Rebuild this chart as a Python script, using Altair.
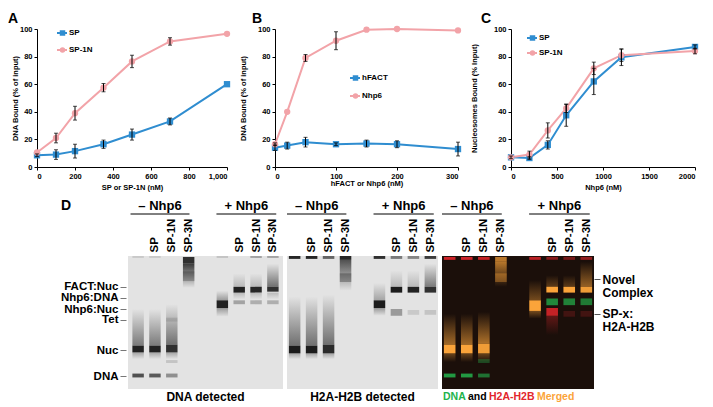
import json
import altair as alt
import pandas as pd

FONT = "Liberation Sans"
BLUE = "#2f8dd0"
PINK = "#f2a3a8"
ORANGE = "#fba43a"
GREEN = "#23b24c"
RED = "#e2262c"

# ---------------- Panel A ----------------
a_conc = [0, 100, 200, 350, 500, 700, 1000]
a_sp = [8.5, 9.0, 11.5, 16.5, 23.5, 33.0, 60.0]
a_sp_err = [1.0, 3.5, 5.0, 3.0, 4.0, 2.5, 0.0]
a_sp1n = [10.5, 21.0, 39.0, 57.5, 76.5, 91.0, 96.5]
a_sp1n_err = [0.5, 3.5, 5.0, 3.0, 4.5, 2.7, 0.0]

# ---------------- Panel B ----------------
b_conc = [0, 20, 50, 100, 150, 200, 300]
b_hfact = [14.0, 15.5, 18.0, 16.5, 17.0, 16.5, 13.0]
b_hfact_err = [2.0, 2.5, 3.5, 1.0, 2.5, 2.5, 5.0]
b_nhp6 = [16.5, 40.0, 79.0, 91.5, 99.5, 100.0, 99.0]
b_nhp6_err = [1.0, 0.0, 2.5, 6.5, 0.0, 0.0, 0.0]

# ---------------- Panel C ----------------
c_conc = [0, 200, 400, 600, 900, 1200, 2000]
c_sp = [7.0, 6.5, 16.0, 37.5, 62.0, 79.5, 87.0]
c_sp_err = [0.0, 1.0, 3.0, 8.0, 9.5, 6.0, 1.5]
c_sp1n = [7.0, 9.0, 26.5, 42.5, 71.5, 81.0, 84.0]
c_sp1n_err = [1.0, 2.5, 5.5, 3.0, 4.5, 4.5, 2.0]

# ---------------- Panel D (gels) ----------------
GEL_DEPTH = 138
lane_label_pos = [1, 2, 3, 6, 7, 8]
lane_label_text = ["SP", "SP-1N", "SP-3N", "SP", "SP-1N", "SP-3N"]
hdr_text = ["\u2013 Nhp6", "+ Nhp6"]
hdr_start = [-0.45, 4.65]
hdr_end = [3.05, 8.2]
g1_marker_pos = [32, 43.5, 55, 66, 98, 125]
g1_marker_text = ["FACT:Nuc", "Nhp6:DNA", "Nhp6:Nuc", "Tet", "Nuc", "DNA"]
g3_marker_pos = [24, 60]
g3_marker_text = [["Novel", "Complex"], ["SP-x:", "H2A-H2B"]]
cap_words = ["DNA", "and", "H2A-H2B", "Merged"]

# gel 1: DNA detected  (lane, top, bottom, level, kind)
g1_lane = [0, 1, 5, 7, 8, 0, 1, 2, 0, 1, 2, 0, 1, 2, 2, 2, 0, 1, 2, 3, 3, 3, 5, 5, 5,
           6, 7, 8, 6, 7, 8, 6, 7, 8, 6, 7, 8]
g1_top = [0, 0, 0, 0, 0, 55, 55, 50, 93, 93, 92, 100, 100, 100, 64, 108, 122, 122, 122, 1, 8, 16, 36, 46, 54,
          18, 18, 8, 32, 32, 32, 38, 38, 38, 46, 46, 46]
g1_bot = [2, 2, 2, 2, 2, 93, 93, 92, 100, 100, 100, 107, 107, 107, 68, 111, 126, 126, 126, 8, 33, 26, 46, 54, 63,
          32, 32, 32, 38, 38, 37, 45, 45, 45, 50, 50, 50]
g1_level = [0.12, 0.12, 0.15, 0.3, 0.3, 0.5, 0.5, 0.55, 0.92, 0.92, 0.85, 0.3, 0.3, 0.3, 0.12, 0.15,
            0.7, 0.65, 0.4, 0.85, 0.8, 0.25, 0.35, 0.92, 0.35, 0.2, 0.2, 0.55, 0.92, 0.9, 0.85,
            0.2, 0.2, 0.2, 0.3, 0.25, 0.25]
g1_kind = ["band"] * 5 + ["up"] * 3 + ["band"] * 3 + ["down"] * 3 + ["band"] * 6 + ["down", "band", "up", "band", "down",
           "up", "up", "up", "band", "band", "band", "down", "down", "down", "band", "band", "band"]

# gel 2: H2A-H2B detected
g2_lane = [0, 1, 2, 3, 5, 6, 7, 8, 0, 1, 2, 0, 1, 2, 0, 1, 2, 3, 3, 5, 5, 5,
           6, 7, 8, 6, 7, 8, 6, 7, 8]
g2_top = [0, 0, 0, 0, 0, 0, 0, 0, 42, 42, 40, 93, 93, 92, 101, 101, 101, 4, 18, 28, 46, 54,
          15, 15, 8, 32, 32, 32, 55, 56, 56]
g2_bot = [3, 3, 3, 4, 3, 3, 3, 3, 93, 93, 92, 101, 101, 101, 107, 107, 107, 36, 27, 46, 54, 62,
          32, 32, 32, 38, 38, 38, 62, 61, 61]
g2_level = [0.9, 0.9, 0.6, 0.9, 0.85, 0.5, 0.45, 0.8, 0.55, 0.55, 0.55, 0.95, 0.95, 0.88,
            0.3, 0.3, 0.3, 0.7, 0.3, 0.3, 0.95, 0.35, 0.2, 0.2, 0.5, 0.95, 0.92, 0.85,
            0.35, 0.12, 0.15]
g2_kind = ["band"] * 8 + ["up"] * 3 + ["band"] * 3 + ["down"] * 3 + ["down", "band", "up", "band", "down",
           "up", "up", "up", "band", "band", "band", "band", "band", "band"]

# gel 3: DNA (green) and H2A-H2B (red), merged (orange)
g3_lane = [0, 1, 2, 5, 6, 7, 8, 3, 3, 3, 0, 1, 2, 0, 1, 2, 0, 1, 2, 2, 0, 1, 2,
           5, 5, 5, 6, 7, 8, 6, 7, 8, 6, 7, 8, 6, 6, 7, 8]
g3_top = [1, 1, 1, 1, 1, 1, 1, 1, 6, 18, 60, 60, 58, 92, 92, 91, 101, 101, 101, 107, 122, 122, 122,
          25, 46, 57, 20, 20, 6, 32, 32, 32, 44, 44, 44, 54, 62, 57, 57]
g3_bot = [4, 4, 4, 4, 4, 4, 4, 6, 32, 27, 92, 92, 91, 101, 101, 101, 110, 110, 110, 111, 126, 126, 126,
          46, 57, 65, 32, 32, 32, 38, 38, 38, 51, 51, 51, 62, 82, 63, 63]
g3_level = [0.9, 0.9, 0.85, 0.8, 0.55, 0.45, 0.6, 0.7, 0.7, 0.35, 0.6, 0.6, 0.65, 1.0, 1.0, 0.95,
            0.35, 0.35, 0.35, 0.35, 0.85, 0.85, 0.6, 0.4, 1.0, 0.4, 0.3, 0.3, 0.55, 1.0, 1.0, 0.95,
            0.75, 0.7, 0.65, 0.85, 0.35, 0.2, 0.2]
g3_kind = ["band"] * 7 + ["band", "down", "band"] + ["up"] * 3 + ["band"] * 3 + ["down"] * 3 + ["band"] * 4 + \
          ["up", "band", "down", "up", "up", "up", "band", "band", "band", "band", "band", "band",
           "band", "down", "band", "band"]
g3_signal = ["H2A-H2B"] * 7 + ["Merged"] * 12 + ["DNA"] * 4 + ["Merged"] * 9 + ["DNA"] * 3 + ["H2A-H2B"] * 4


def label_expr(values, labels):
    s = ""
    for v, l in zip(values, labels):
        s += f"datum.value == {v} ? {json.dumps(l)} : "
    return s + "''"


def rgba(hex_color, a):
    h = hex_color.lstrip("#")
    return f"rgba({int(h[0:2], 16)},{int(h[2:4], 16)},{int(h[4:6], 16)},{a})"


def fade(color, dark_at_bottom):
    c0, c1 = (rgba(color, 0), rgba(color, 1)) if dark_at_bottom else (rgba(color, 1), rgba(color, 0))
    return alt.Gradient(gradient="linear", x1=0, x2=0, y1=0, y2=1,
                        stops=[alt.GradientStop(color=c0, offset=0), alt.GradientStop(color=c1, offset=1)])


def text_layer(txt, x, y, size, color="#000", align="left", weight="bold", baseline="middle"):
    return alt.Chart(pd.DataFrame({"t": [txt]})).mark_text(
        font=FONT, fontSize=size, fontWeight=weight, color=color, align=align, baseline=baseline
    ).encode(text="t:N", x=alt.value(x), y=alt.value(y))


def line_panel(letter, letter_x, conc, names, vals, errs, xmax, xticks, xfmt, xtitle, ytitle,
               w, h, ytp, xtp, lx, ly, gap):
    rows = []
    for name, ys, es in zip(names, vals, errs):
        for c, v, e in zip(conc, ys, es):
            rows.append({"conc": c, "pct": v, "lo": v - e, "hi": v + e, "err": e,
                         "series": name, "marker": name + " "})
    df = pd.DataFrame(rows)
    markers = [n + " " for n in names]
    xscale = alt.Scale(domain=[0, xmax], nice=False, zero=True)
    yscale = alt.Scale(domain=[0, 100], nice=False)
    common = dict(grid=False, domainColor="#000", tickColor="#000", tickSize=3, labelPadding=2,
                  labelFont=FONT, titleFont=FONT, labelFontSize=7.5, titleFontSize=7.5,
                  labelFontWeight="bold", titleFontWeight="bold", labelColor="#000", titleColor="#000")
    xaxis = alt.Axis(values=xticks, format=xfmt, title=xtitle, titlePadding=xtp, **common)
    yaxis = alt.Axis(values=[0, 20, 40, 60, 80, 100], title=ytitle, titlePadding=ytp, **common)
    X = alt.X("conc:Q", scale=xscale, axis=xaxis)
    base = alt.Chart(df)
    leg_line = alt.Legend(orient="none", legendX=lx, legendY=ly, title=None, symbolType="stroke",
                          symbolSize=100, symbolStrokeWidth=2, labelFont=FONT, labelFontSize=8,
                          labelFontWeight="bold", labelColor="#000", labelOffset=1, clipHeight=10,
                          rowPadding=gap - 10, padding=0, zindex=1)
    leg_pt = alt.Legend(orient="none", legendX=lx + 2.5, legendY=ly, title=None, symbolSize=30,
                        symbolStrokeWidth=0, labelFont=FONT, labelFontSize=8, labelOpacity=0,
                        labelOffset=3.5, clipHeight=10, rowPadding=gap - 10, padding=0, zindex=2)
    line = base.mark_line(strokeWidth=2).encode(
        x=X, y=alt.Y("pct:Q", scale=yscale, axis=yaxis),
        color=alt.Color("series:N", scale=alt.Scale(domain=names, range=[BLUE, PINK]), legend=leg_line),
    )
    pts = base.mark_point(filled=True, opacity=1, size=40).encode(
        x=X, y=alt.Y("pct:Q", scale=yscale, axis=yaxis),
        fill=alt.Fill("marker:N", scale=alt.Scale(domain=markers, range=[BLUE, PINK]), legend=leg_pt),
        shape=alt.Shape("marker:N", scale=alt.Scale(domain=markers, range=["square", "circle"]), legend=leg_pt),
    )
    err = base.transform_filter("datum.err > 0.6").mark_errorbar(
        ticks=True, size=4, thickness=1, color="#000"
    ).encode(x=X, y=alt.Y("lo:Q", scale=yscale, axis=yaxis), y2="hi:Q")
    lab = text_layer(letter, letter_x, -17, 14, baseline="top")
    return alt.layer(line, pts, err, lab).properties(width=w, height=h)


def make_gel(lanes, tops, bots, levels, kinds, signals, palette, width, height, xdom, bg,
             yaxis, extras):
    df = pd.DataFrame(dict(lane=lanes, top=tops, bot=bots, level=levels, kind=kinds, signal=signals))
    xscale = alt.Scale(domain=xdom, nice=False, zero=False)
    yscale = alt.Scale(domain=[0, GEL_DEPTH], reverse=True, nice=False, zero=False)
    lane_axis = alt.Axis(orient="top", values=lane_label_pos,
                         labelExpr=label_expr(lane_label_pos, lane_label_text), labelAngle=270,
                         labelAlign="left", labelBaseline="middle", ticks=False, domain=False,
                         grid=False, labelPadding=4, labelFont=FONT, labelFontSize=11.5,
                         labelFontWeight="bold", labelColor="#000", title=None, labelOverlap=False)
    base = alt.Chart(df).transform_calculate(x0="datum.lane - 0.34", x1="datum.lane + 0.34")
    layers = []
    for sig, col in palette.items():
        for kind in ["up", "down", "band"]:
            sub = base.transform_filter(f"datum.signal == '{sig}' && datum.kind == '{kind}'")
            if kind == "band":
                mk = sub.mark_rect(color=col)
            else:
                mk = sub.mark_rect(fill=fade(col, kind == "up"))
            layers.append(mk.encode(
                x=alt.X("x0:Q", scale=xscale, axis=lane_axis),
                x2="x1:Q",
                y=alt.Y("top:Q", scale=yscale, axis=yaxis),
                y2="bot:Q",
                opacity=alt.Opacity("level:Q", scale=None, legend=None),
            ))
    hdr = pd.DataFrame({"label": hdr_text, "start": hdr_start, "end": hdr_end})
    rule = alt.Chart(hdr).mark_rule(color="#000", strokeWidth=1).encode(
        x=alt.X("start:Q", scale=xscale, axis=lane_axis), x2="end:Q", y=alt.value(-42))
    htxt = alt.Chart(hdr).transform_calculate(mid="(datum.start + datum.end) / 2").mark_text(
        font=FONT, fontSize=13, fontWeight="bold", baseline="middle", color="#000"
    ).encode(x=alt.X("mid:Q", scale=xscale, axis=lane_axis), y=alt.value(-50), text="label:N")
    layers += [rule, htxt] + extras
    return alt.layer(*layers).properties(
        width=width, height=height, view=alt.ViewBackground(fill=bg, stroke=None))


GW1, GW2, GW3, GH = 155, 151, 152, 133
CAP_Y = GH + 8

g1_yaxis = alt.Axis(orient="left", values=g1_marker_pos, labelExpr=label_expr(g1_marker_pos, g1_marker_text),
                    domain=False, grid=False, ticks=True, tickSize=6, tickColor="#777", offset=2,
                    labelPadding=2, labelFont=FONT, labelFontSize=11.5, labelFontWeight="bold",
                    labelColor="#000", labelOverlap=False, title=None)
g3_yaxis = alt.Axis(orient="right", values=g3_marker_pos, labelExpr=label_expr(g3_marker_pos, g3_marker_text),
                    domain=False, grid=False, ticks=True, tickSize=6, tickColor="#555", offset=0,
                    labelPadding=2, labelFont=FONT, labelFontSize=12, labelFontWeight="bold",
                    labelColor="#000", labelOverlap=False, labelLineHeight=13, labelAlign="left",
                    title=None)

gel1 = make_gel(g1_lane, g1_top, g1_bot, g1_level, g1_kind, ["gel"] * len(g1_lane), {"gel": "#111111"},
                GW1, GH, [-0.6, 8.6], "#e3e3e3", g1_yaxis,
                [text_layer("D", -67, -50, 14),
                 text_layer("DNA detected", GW1 / 2, CAP_Y, 12, align="center")])
gel2 = make_gel(g2_lane, g2_top, g2_bot, g2_level, g2_kind, ["gel"] * len(g2_lane), {"gel": "#111111"},
                GW2, GH, [-0.45, 8.45], "#e3e3e3", None,
                [text_layer("H2A-H2B detected", GW2 / 2, CAP_Y, 12, align="center")])
gel3 = make_gel(g3_lane, g3_top, g3_bot, g3_level, g3_kind, g3_signal,
                {"Merged": ORANGE, "DNA": GREEN, "H2A-H2B": RED},
                GW3, GH, [-0.45, 8.45], "#1b0f0a", g3_yaxis,
                [text_layer(cap_words[0], 1, CAP_Y, 10.5, color=GREEN),
                 text_layer(cap_words[1], 26, CAP_Y, 10.5, color="#000"),
                 text_layer(cap_words[2], 47, CAP_Y, 10.5, color=RED),
                 text_layer(cap_words[3], 95, CAP_Y, 10.5, color=ORANGE)])

SPACER_W = 20
spacer = alt.Chart(pd.DataFrame({"s": [0]})).mark_rect(opacity=0).encode(
    x=alt.value(0), x2=alt.value(SPACER_W), y=alt.value(0), y2=alt.value(1)
).properties(width=SPACER_W, height=1)

pa = line_panel("A", -29, a_conc, ["SP", "SP-1N"], [a_sp, a_sp1n], [a_sp_err, a_sp1n_err], 1000,
                [0, 200, 400, 600, 800, 1000], ",.0f", "SP or SP-1N (nM)", "DNA Bound (% of input)",
                190, 138, 0, 3.5, 19, -1, 17)
pb = line_panel("B", -23, b_conc, ["hFACT", "Nhp6"], [b_hfact, b_nhp6], [b_hfact_err, b_nhp6_err], 300,
                [0, 100, 200, 300], ".0f", "hFACT or Nhp6 (nM)", "DNA Bound (% of input)",
                183, 138, 10, 0, 74, 44, 18)
pc = line_panel("C", -30, c_conc, ["SP", "SP-1N"], [c_sp, c_sp1n], [c_sp_err, c_sp1n_err], 2000,
                [0, 500, 1000, 1500, 2000], ".0f", "Nhp6 (nM)", "Nucleosomes Bound (% Input)",
                184, 138, 15, 3.5, 15, 4, 15)

top = alt.hconcat(pa, pb, pc, spacing=8).resolve_scale(
    color="independent", fill="independent", shape="independent")
bottom = alt.hconcat(spacer, gel1, gel2, gel3, spacing=3)

chart = alt.vconcat(top, bottom, spacing=8, center=False).properties(
    padding={"left": 0, "top": 4, "right": 0, "bottom": 0}).configure_view(stroke=None)

chart.save("out.html", embed_options={"renderer": "svg", "actions": False})
